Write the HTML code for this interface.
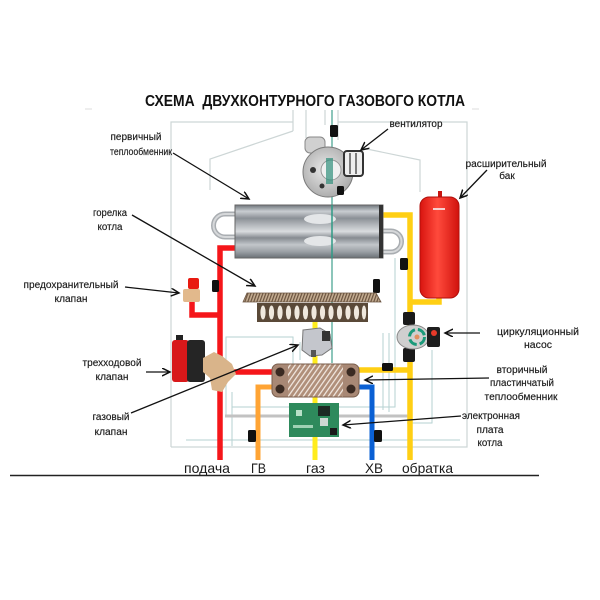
<!DOCTYPE html>
<html><head><meta charset="utf-8"><style>
html,body{margin:0;padding:0;background:#fff;}
svg{display:block;}
text{font-family:"Liberation Sans","DejaVu Sans",sans-serif;}
</style></head><body>
<svg width="600" height="600" viewBox="0 0 600 600" xmlns="http://www.w3.org/2000/svg">
<defs>
<marker id="ah" markerUnits="userSpaceOnUse" markerWidth="10" markerHeight="10" refX="8" refY="4" orient="auto">
<path d="M0,0 L8,4 L0,8" fill="none" stroke="#111" stroke-width="1.5"/>
</marker>
<linearGradient id="hx" x1="0" y1="0" x2="0" y2="1">
<stop offset="0" stop-color="#6f757b"/>
<stop offset="0.12" stop-color="#c9cdd1"/>
<stop offset="0.25" stop-color="#8b9096"/>
<stop offset="0.38" stop-color="#b5b9bd"/>
<stop offset="0.5" stop-color="#d9dcdf"/>
<stop offset="0.62" stop-color="#868b91"/>
<stop offset="0.75" stop-color="#c2c6ca"/>
<stop offset="0.88" stop-color="#9ba0a5"/>
<stop offset="1" stop-color="#6a7076"/>
</linearGradient>
<linearGradient id="tank" x1="0" y1="0" x2="1" y2="0">
<stop offset="0" stop-color="#d8140f"/>
<stop offset="0.45" stop-color="#ff4a3c"/>
<stop offset="1" stop-color="#d0120d"/>
</linearGradient>
<radialGradient id="fan" cx="0.45" cy="0.45" r="0.6">
<stop offset="0" stop-color="#eaeaea"/>
<stop offset="1" stop-color="#a8a8a8"/>
</radialGradient>
<pattern id="grate" width="3" height="10" patternUnits="userSpaceOnUse" patternTransform="skewX(-20)">
<rect width="3" height="10" fill="#c4ad92"/>
<rect width="1.3" height="10" fill="#6b5440"/>
</pattern>
<pattern id="plates" width="5" height="10" patternUnits="userSpaceOnUse" patternTransform="skewX(-35)">
<rect width="5" height="10" fill="#b08f7a"/>
<rect width="1.6" height="10" fill="#eee4dc"/>
</pattern>
<clipPath id="phx"><rect x="272" y="364" width="87" height="33" rx="6"/></clipPath>
</defs>

<rect width="600" height="600" fill="#fff"/>

<!-- title -->
<text x="145" y="106" font-size="15.5" font-weight="bold" fill="#111" textLength="320" lengthAdjust="spacingAndGlyphs" xml:space="preserve">СХЕМА  ДВУХКОНТУРНОГО ГАЗОВОГО КОТЛА</text>
<line x1="85" y1="109" x2="92" y2="109" stroke="#ddd" stroke-width="1"/>
<line x1="472" y1="109" x2="479" y2="109" stroke="#ddd" stroke-width="1"/>

<!-- outer casing lines -->
<g fill="none" stroke="#cdd6d6" stroke-width="1.2">
<polyline points="171,447 171,122 293,122"/>
<polyline points="338,122 467,122 467,447 171,447"/>
<line x1="293" y1="110" x2="293" y2="131"/>
<line x1="306" y1="110" x2="306" y2="138"/>
<line x1="325" y1="110" x2="325" y2="125"/>
<line x1="338" y1="110" x2="338" y2="140"/>
<polyline points="293,131 210,159 210,190"/>
<polyline points="362,148 420,160 420,192"/>
</g>

<!-- wiring thin lines -->
<g fill="none" stroke="#b6d2d2" stroke-width="1">
<polyline points="226,417 226,337 293,337 293,364"/>
<polyline points="232,446 232,392"/>
<polyline points="232,407 395,407 395,258"/>
<polyline points="383,333 383,410"/>
<polyline points="389,333 389,412"/>
<polyline points="432,350 432,423 407,423"/>
<polyline points="186,440 460,440"/>
<polyline points="300,342 300,360"/>
</g>
<line x1="225" y1="416" x2="408" y2="416" stroke="#c2c2c2" stroke-width="3"/>

<!-- gas pipe (behind) -->
<line x1="315" y1="322" x2="315" y2="460" stroke="#ffec1c" stroke-width="5"/>

<!-- red supply -->
<path d="M236,248 H220 V460" fill="none" stroke="#f5161a" stroke-width="5.5"/>
<path d="M220,315 H192 V300" fill="none" stroke="#f5161a" stroke-width="5.5"/>
<path d="M232,372 H274" fill="none" stroke="#f5161a" stroke-width="5.5"/>

<!-- yellow return -->
<path d="M382,215 H410 V460" fill="none" stroke="#ffcf14" stroke-width="5.5"/>
<path d="M410,302 H439 V296" fill="none" stroke="#ffcf14" stroke-width="5.5"/>
<path d="M356,370 H410" fill="none" stroke="#ffcf14" stroke-width="5.5"/>

<!-- orange ГВ -->
<path d="M274,387 H258 V460" fill="none" stroke="#ffa434" stroke-width="5"/>
<!-- blue ХВ -->
<path d="M356,387 H372 V460" fill="none" stroke="#0a60d4" stroke-width="5"/>

<!-- teal line -->
<line x1="332" y1="110" x2="332" y2="363" stroke="#3f9f8c" stroke-width="1.2"/>

<!-- fan -->
<rect x="305" y="137" width="20" height="16" rx="5" fill="#d0d0d0" stroke="#888" stroke-width="1"/>
<circle cx="328" cy="172" r="25" fill="url(#fan)" stroke="#7a7a7a" stroke-width="1"/>
<circle cx="331" cy="170" r="10" fill="#f0f0f0" stroke="#999" stroke-width="1"/>
<circle cx="313" cy="170" r="3" fill="#333"/>
<circle cx="322" cy="186" r="2.5" fill="#333"/>
<rect x="326" y="158" width="7" height="26" fill="#2f8f7a" opacity="0.7"/>
<rect x="344" y="151" width="19" height="25" rx="3" fill="#eee" stroke="#333" stroke-width="2"/>
<line x1="350" y1="153" x2="350" y2="174" stroke="#555" stroke-width="1.5"/>
<line x1="356" y1="153" x2="356" y2="174" stroke="#555" stroke-width="1.5"/>
<rect x="337" y="186" width="7" height="9" rx="1.5" fill="#111"/>

<!-- primary heat exchanger loops -->
<path d="M236,214 H225 a11.5,11.5 0 0 0 0,23 H236" fill="none" stroke="#a9adb1" stroke-width="5"/>
<path d="M236,214 H225 a11.5,11.5 0 0 0 0,23 H236" fill="none" stroke="#d6d8da" stroke-width="2"/>
<path d="M382,231 H391 a10.5,10.5 0 0 1 0,21 H382" fill="none" stroke="#a9adb1" stroke-width="5"/>
<path d="M382,231 H391 a10.5,10.5 0 0 1 0,21 H382" fill="none" stroke="#d6d8da" stroke-width="2"/>
<rect x="235" y="205" width="148" height="53" fill="url(#hx)" stroke="#666" stroke-width="1"/>
<ellipse cx="320" cy="219" rx="16" ry="5" fill="#e4e6e8"/>
<ellipse cx="320" cy="241" rx="16" ry="5" fill="#e4e6e8"/>
<rect x="379" y="205" width="4" height="53" fill="#333"/>
<line x1="332" y1="205" x2="332" y2="258" stroke="#2f9a85" stroke-width="1.5"/>

<!-- expansion tank -->
<rect x="438" y="191" width="4" height="7" fill="#c81510"/>
<rect x="420" y="197" width="39" height="101" rx="9" fill="url(#tank)" stroke="#b10f0b" stroke-width="1"/>
<rect x="433" y="208" width="12" height="2" fill="#f6d0d0"/>

<!-- sensors -->
<g fill="#111">
<rect x="330" y="125" width="8" height="12" rx="1.5"/>
<rect x="212" y="280" width="7" height="12" rx="1.5"/>
<rect x="373" y="279" width="7" height="14" rx="1.5"/>
<rect x="400" y="258" width="8" height="12" rx="1.5"/>
<rect x="382" y="363" width="11" height="8" rx="1.5"/>
<rect x="248" y="430" width="8" height="12" rx="1.5"/>
<rect x="374" y="430" width="8" height="12" rx="1.5"/>
</g>

<!-- burner -->
<polygon points="243,302 247,293 376,293 381,302" fill="url(#grate)" stroke="#6b5440" stroke-width="0.8"/>
<rect x="257" y="303" width="111" height="19" fill="#5a4938"/>
<g fill="#efe8dd">
<ellipse cx="263" cy="312.5" rx="2.6" ry="7"/><ellipse cx="271.5" cy="312.5" rx="2.6" ry="7"/>
<ellipse cx="280" cy="312.5" rx="2.6" ry="7"/><ellipse cx="288.5" cy="312.5" rx="2.6" ry="7"/>
<ellipse cx="297" cy="312.5" rx="2.6" ry="7"/><ellipse cx="305.5" cy="312.5" rx="2.6" ry="7"/>
<ellipse cx="314" cy="312.5" rx="2.6" ry="7"/><ellipse cx="322.5" cy="312.5" rx="2.6" ry="7"/>
<ellipse cx="331" cy="312.5" rx="2.6" ry="7"/><ellipse cx="339.5" cy="312.5" rx="2.6" ry="7"/>
<ellipse cx="348" cy="312.5" rx="2.6" ry="7"/><ellipse cx="356.5" cy="312.5" rx="2.6" ry="7"/>
<ellipse cx="364" cy="312.5" rx="2.2" ry="7"/>
</g>

<!-- safety valve -->
<rect x="188" y="278" width="11" height="11" rx="2" fill="#e81a10"/>
<rect x="183" y="289" width="17" height="13" rx="2" fill="#e2b98c"/>

<!-- three-way valve -->
<rect x="176" y="335" width="7" height="6" fill="#222"/>
<rect x="172" y="340" width="17" height="42" rx="3" fill="#d8181a"/>
<rect x="187" y="340" width="18" height="42" rx="3" fill="#252525"/>
<path d="M203,358 L214,352 L222,356 L232,364 L236,374 L228,382 L222,392 L212,390 L210,378 L203,372 Z" fill="#d9b48a"/>

<!-- gas valve -->
<path d="M303,330 L320,328 L330,334 L332,348 L322,355 L310,356 L302,350 Z" fill="#c4c6cc" stroke="#777" stroke-width="1"/>
<rect x="322" y="331" width="8" height="10" fill="#333"/>
<rect x="311" y="350" width="5" height="7" fill="#555"/>

<!-- plate heat exchanger -->
<g clip-path="url(#phx)">
<rect x="272" y="364" width="87" height="33" fill="url(#plates)"/>
<rect x="272" y="364" width="16" height="33" fill="#a88875"/>
<rect x="343" y="364" width="16" height="33" fill="#a88875"/>
</g>
<rect x="272" y="364" width="87" height="33" rx="6" fill="none" stroke="#7a5e4c" stroke-width="1"/>
<g fill="#3a2a22">
<circle cx="280" cy="372" r="4.5"/><circle cx="280" cy="389" r="4.5"/>
<circle cx="351" cy="372" r="4.5"/><circle cx="351" cy="389" r="4.5"/>
</g>

<!-- electronic board -->
<rect x="289" y="403" width="50" height="34" fill="#2e8a5c"/>
<rect x="318" y="406" width="12" height="10" fill="#1d2a24"/>
<rect x="320" y="418" width="8" height="8" fill="#cfd8d4"/>
<rect x="293" y="425" width="20" height="3" fill="#9fd1b4"/>
<rect x="296" y="410" width="6" height="6" fill="#b8e0c8"/>
<rect x="330" y="428" width="7" height="7" fill="#1a1a1a"/>

<!-- pump -->
<rect x="403" y="312" width="12" height="13" rx="2" fill="#1a1a1a"/>
<rect x="403" y="348" width="12" height="14" rx="2" fill="#1a1a1a"/>
<ellipse cx="413" cy="337" rx="16" ry="12" fill="#cfcfcf" stroke="#888" stroke-width="1"/>
<circle cx="417" cy="337" r="7.5" fill="none" stroke="#1a9a7a" stroke-width="3" stroke-dasharray="9 3"/>
<circle cx="417" cy="337" r="2.5" fill="#e09060"/>
<rect x="427" y="327" width="13" height="20" rx="2" fill="#1e1e1e"/>
<circle cx="434" cy="333" r="3" fill="#e83a2a"/>

<!-- arrows -->
<g stroke="#111" stroke-width="1.3" fill="none" marker-end="url(#ah)">
<line x1="388" y1="129" x2="361" y2="150"/>
<line x1="173" y1="153" x2="249" y2="199"/>
<line x1="487" y1="170" x2="460" y2="198"/>
<line x1="132" y1="215" x2="255" y2="286"/>
<line x1="125" y1="287" x2="179" y2="293"/>
<line x1="146" y1="372" x2="170" y2="372"/>
<line x1="131" y1="413" x2="298" y2="345"/>
<line x1="480" y1="333" x2="445" y2="333"/>
<line x1="489" y1="378" x2="365" y2="380"/>
<line x1="461" y1="416" x2="343" y2="425"/>
</g>

<!-- labels -->
<g font-size="10" fill="#1a1a1a" text-anchor="middle" stroke="#1a1a1a" stroke-width="0.15">
<text x="416" y="127" textLength="53" lengthAdjust="spacingAndGlyphs">вентилятор</text>
<text x="136" y="140" textLength="51" lengthAdjust="spacingAndGlyphs">первичный</text>
<text x="141" y="155" textLength="62" lengthAdjust="spacingAndGlyphs">теплообменник</text>
<text x="506" y="167" textLength="81" lengthAdjust="spacingAndGlyphs">расширительный</text>
<text x="507" y="179">бак</text>
<text x="110" y="216" textLength="34" lengthAdjust="spacingAndGlyphs">горелка</text>
<text x="110" y="230" textLength="25" lengthAdjust="spacingAndGlyphs">котла</text>
<text x="71" y="288" textLength="95" lengthAdjust="spacingAndGlyphs">предохранительный</text>
<text x="71" y="302" textLength="33" lengthAdjust="spacingAndGlyphs">клапан</text>
<text x="112" y="366" textLength="59" lengthAdjust="spacingAndGlyphs">трехходовой</text>
<text x="112" y="380" textLength="33" lengthAdjust="spacingAndGlyphs">клапан</text>
<text x="111" y="420" textLength="37" lengthAdjust="spacingAndGlyphs">газовый</text>
<text x="111" y="435" textLength="33" lengthAdjust="spacingAndGlyphs">клапан</text>
<text x="538" y="335" textLength="82" lengthAdjust="spacingAndGlyphs">циркуляционный</text>
<text x="538" y="348" textLength="28" lengthAdjust="spacingAndGlyphs">насос</text>
<text x="522" y="373" textLength="51" lengthAdjust="spacingAndGlyphs">вторичный</text>
<text x="522" y="386" textLength="64" lengthAdjust="spacingAndGlyphs">пластинчатый</text>
<text x="521" y="400" textLength="73" lengthAdjust="spacingAndGlyphs">теплообменник</text>
<text x="491" y="419" textLength="58" lengthAdjust="spacingAndGlyphs">электронная</text>
<text x="490" y="433" textLength="27" lengthAdjust="spacingAndGlyphs">плата</text>
<text x="490" y="446" textLength="25" lengthAdjust="spacingAndGlyphs">котла</text>
</g>

<!-- bottom labels -->
<g font-size="14" fill="#1a1a1a">
<text x="184" y="473" textLength="46" lengthAdjust="spacingAndGlyphs">подача</text>
<text x="251" y="473" textLength="15" lengthAdjust="spacingAndGlyphs">ГВ</text>
<text x="306" y="473" textLength="19" lengthAdjust="spacingAndGlyphs">газ</text>
<text x="365" y="473" textLength="18" lengthAdjust="spacingAndGlyphs">ХВ</text>
<text x="402" y="473" textLength="51" lengthAdjust="spacingAndGlyphs">обратка</text>
</g>
<line x1="10" y1="475.5" x2="539" y2="475.5" stroke="#222" stroke-width="1.5"/>
</svg>
</body></html>
